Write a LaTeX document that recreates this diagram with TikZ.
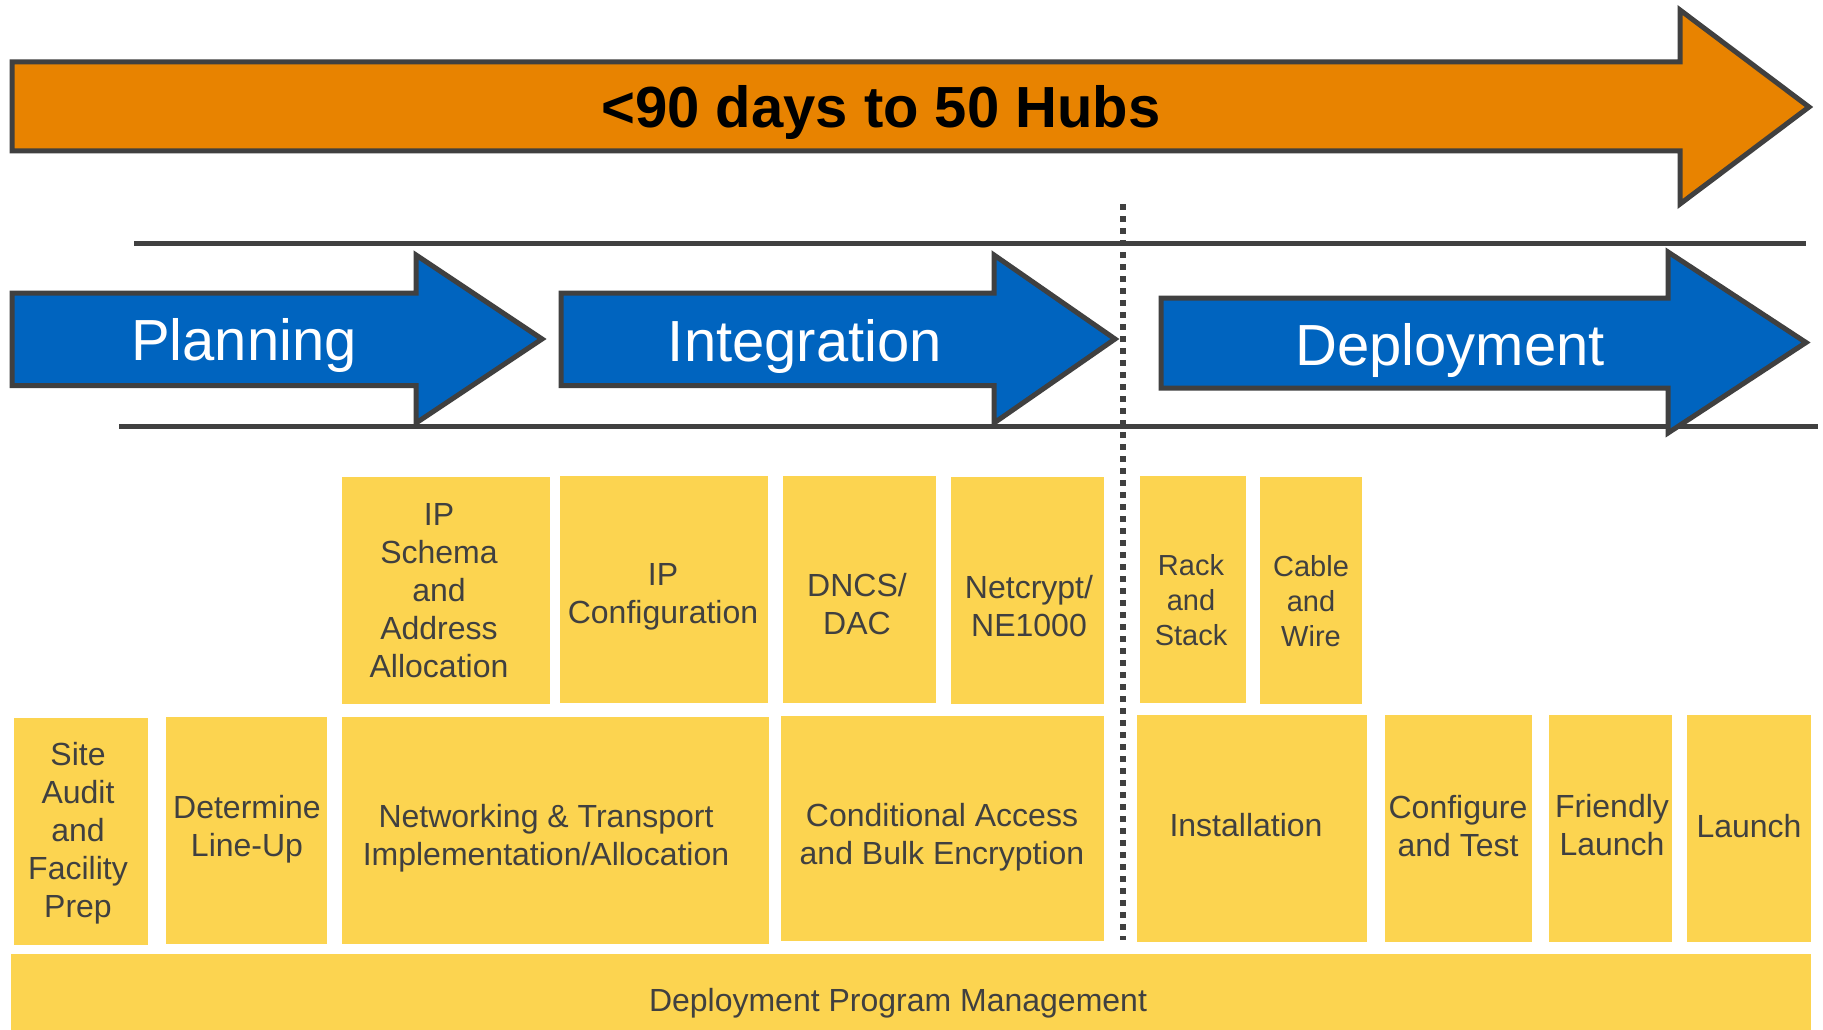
\documentclass[tikz,border=0pt]{standalone}
\usepackage{fontspec}
\setmainfont{Liberation Sans}
\definecolor{edgegray}{HTML}{404040}
\definecolor{timeorange}{HTML}{E88300}
\definecolor{phaseblue}{HTML}{0064BF}
\definecolor{taskyellow}{HTML}{FCD450}
\definecolor{textgray}{HTML}{404040}

\begin{document}
\begin{tikzpicture}[x=1pt, y=-1pt,
    bigarrow/.style = {draw=edgegray, line width=5pt, fill=timeorange},
    phasearrow/.style = {draw=edgegray, line width=5pt, fill=phaseblue},
    phasetext/.style = {anchor=base, inner sep=0pt, text=white, font=\fontsize{58}{70}\selectfont},
    phaseline/.style = {edgegray, line width=5pt},
    task/.style = {fill=taskyellow},
    tasktext/.style = {align=center, inner sep=0pt, text=textgray, font=\fontsize{32}{38}\selectfont},
    smalltext/.style = {tasktext, font=\fontsize{29}{35}\selectfont}]
    % Frame
    \useasboundingbox[fill=white] (0,0) rectangle (1823,1030);
    % Timeline
    \draw[bigarrow] (12,62) -- (1680,62) -- (1680,10) -- (1809,107)
        -- (1680,204) -- (1680,151) -- (12,151) -- cycle;
    \node[anchor=base, inner sep=0pt, font=\bfseries\fontsize{58}{70}\selectfont]
        (hubs) at (881,128) {<90 days to 50 Hubs};
    % Phase band
    \draw[phaseline] (134,243.5) -- (1806,243.5);
    \draw[phaseline] (119,426.5) -- (1818,426.5);
    % Phases
    \draw[phasearrow] (12,293) -- (416,293) -- (416,255) -- (542,339)
        -- (416,423) -- (416,385.5) -- (12,385.5) -- cycle;
    \draw[phasearrow] (561,293) -- (994,293) -- (994,255) -- (1115,339)
        -- (994,423) -- (994,385.5) -- (561,385.5) -- cycle;
    \draw[phasearrow] (1161,298) -- (1668,298) -- (1668,252) -- (1806,342.5)
        -- (1668,433) -- (1668,388) -- (1161,388) -- cycle;
    \node[phasetext] (planning) at (244,360) {Planning};
    \node[phasetext] (integration) at (805,361) {Integration};
    \node[phasetext] (deployment) at (1450,365) {Deployment};
    % Divider
    \draw[edgegray, line width=6pt, dash pattern=on 6pt off 6pt] (1122.5,204) -- (1122.5,940);
    % Tasks, upper row
    \fill[task] (342,477) rectangle (550,704);
    \fill[task] (560,476) rectangle (768,703);
    \fill[task] (783,476) rectangle (936,703);
    \fill[task] (951,477) rectangle (1104,704);
    \fill[task] (1140,476) rectangle (1246,703);
    \fill[task] (1260,477) rectangle (1362,704);
    \node[tasktext] (ipschema) at (439,591) {IP\\Schema\\and\\Address\\Allocation};
    \node[tasktext] (ipconfig) at (663,597) {IP\\Configuration};
    \node[tasktext] (dncs) at (857,604) {DNCS/\\DAC};
    \node[tasktext] (netcrypt) at (1029,606) {Netcrypt/\\NE1000};
    \node[smalltext] (rack) at (1191,600) {Rack\\and\\Stack};
    \node[smalltext] (cable) at (1311,601) {Cable\\and\\Wire};
    % Tasks, lower row
    \fill[task] (14,718) rectangle (148,945);
    \fill[task] (166,717) rectangle (327,944);
    \fill[task] (342,717) rectangle (769,944);
    \fill[task] (781,716) rectangle (1104,941);
    \fill[task] (1137,715) rectangle (1367,942);
    \fill[task] (1385,715) rectangle (1532,942);
    \fill[task] (1549,715) rectangle (1672,942);
    \fill[task] (1687,715) rectangle (1811,942);
    \node[tasktext] (site) at (78,833) {Site\\Audit\\and\\Facility\\Prep};
    \node[tasktext] (lineup) at (247,829) {Determine\\Line-Up};
    \node[tasktext] (network) at (546,838) {Networking \& Transport\\Implementation/Allocation};
    \node[tasktext] (condacc) at (942,837) {Conditional Access\\and Bulk Encryption};
    \node[tasktext] (install) at (1246,825) {Installation};
    \node[tasktext] (config) at (1458,826) {Configure\\and Test};
    \node[tasktext] (friendly) at (1612,825) {Friendly\\Launch};
    \node[tasktext] (launch) at (1749,826) {Launch};
    % Program management
    \fill[task] (11,954) rectangle (1811,1030);
    \node[tasktext] (dpm) at (898,1003) {Deployment Program Management};
\end{tikzpicture}
\end{document}
